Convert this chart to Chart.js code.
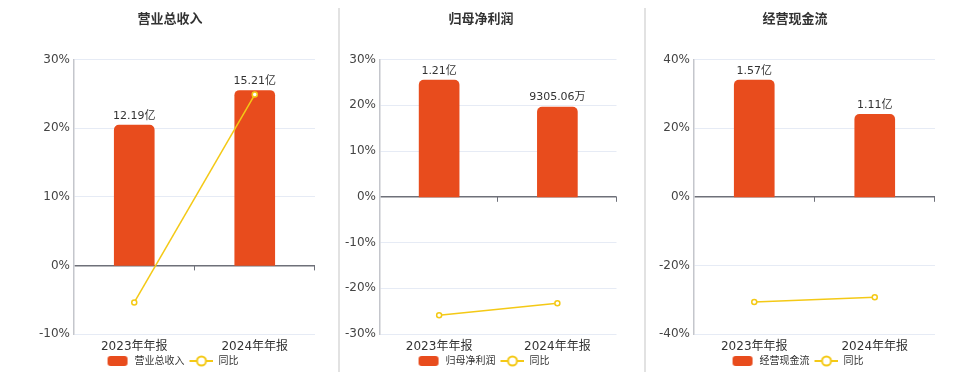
<!DOCTYPE html>
<html>
<head>
<meta charset="utf-8">
<script src="https://cdn.jsdelivr.net/npm/chart.js@4/dist/chart.umd.min.js"></script>
<style>
body{margin:0;background:#fff;width:960px;height:372px;overflow:hidden;position:relative}
.box{position:absolute;top:0;height:372px}
.sep{position:absolute;top:8px;bottom:0;width:2px;background:#e2e2e2}
</style>
</head>
<body>
<div class="box" style="left:0"><canvas id="c1" width="340" height="372"></canvas></div>
<div class="sep" style="left:338px"></div>
<div class="box" style="left:340px"><canvas id="c2" width="282" height="372"></canvas></div>
<div class="sep" style="left:644px"></div>
<div class="box" style="left:646px"><canvas id="c3" width="298" height="372"></canvas></div>
<script>
// 数据
const categories = ['2023年年报', '2024年年报'];

const revenue = [12.19, 15.21];            // 亿
const revenueLabels = ['12.19亿', '15.21亿'];
const revenueYoy = [-5.4, 24.9];           // %
const revenueTicks = [-10, 30, 10];        // min, max, step

const profit = [1.21, 0.930506];           // 亿
const profitLabels = ['1.21亿', '9305.06万'];
const profitYoy = [-25.9, -23.3];
const profitTicks = [-30, 30, 10];

const cash = [1.57, 1.11];                 // 亿
const cashLabels = ['1.57亿', '1.11亿'];
const cashYoy = [-30.7, -29.3];
const cashTicks = [-40, 40, 20];

const FONT = '"DejaVu Sans", "Noto Sans CJK SC", sans-serif';
const BAR_COLOR = '#e84c1d';
const LINE_COLOR = '#f4c916';

// 图例图标（左侧留白充当间距）
function barIcon() {
    const c = document.createElement('canvas');
    c.width = 28; c.height = 10;
    const g = c.getContext('2d');
    g.fillStyle = BAR_COLOR;
    g.beginPath();
    g.roundRect(6, 0, 20, 10, 3);
    g.fill();
    return c;
}
function lineIcon() {
    const c = document.createElement('canvas');
    c.width = 28; c.height = 12;
    const g = c.getContext('2d');
    g.strokeStyle = LINE_COLOR;
    g.lineWidth = 2;
    g.beginPath(); g.moveTo(4, 6); g.lineTo(28, 6); g.stroke();
    g.fillStyle = '#fff';
    g.beginPath(); g.arc(16, 6, 4.5, 0, Math.PI * 2); g.fill(); g.stroke();
    return c;
}
const icons = [barIcon(), lineIcon()];

// 柱顶数值
const barValueLabels = {
    id: 'barValueLabels',
    afterDatasetsDraw(chart, args, opts) {
        const ctx = chart.ctx;
        const meta = chart.getDatasetMeta(0);
        ctx.save();
        ctx.font = '11px ' + FONT;
        ctx.fillStyle = '#333';
        ctx.textAlign = 'center';
        ctx.textBaseline = 'bottom';
        meta.data.forEach((el, i) => {
            ctx.fillText(opts.labels[i], el.x, el.y - 4);
        });
        ctx.restore();
    }
};

// 零轴刻度
const zeroAxisTicks = {
    id: 'zeroAxisTicks',
    afterDraw(chart) {
        const x = chart.scales.x, y = chart.scales.y;
        const y0 = y.getPixelForValue(0);
        const n = chart.data.labels.length;
        const ctx = chart.ctx;
        ctx.save();
        ctx.strokeStyle = '#6e7079';
        ctx.lineWidth = 1;
        for (let i = 1; i <= n; i++) {
            const px = Math.round(x.left + i * (x.width / n)) - 0.5;
            ctx.beginPath();
            ctx.moveTo(px, y0);
            ctx.lineTo(px, y0 + 5);
            ctx.stroke();
        }
        ctx.restore();
    }
};

function makeChart(id, title, name, bars, labels, yoy, ticks, leftW, rightW) {
    const [pMin, pMax, pStep] = ticks;
    const barMax = Math.max(...bars) / 0.85;
    const barMin = barMax * pMin / pMax;
    return new Chart(document.getElementById(id), {
        type: 'bar',
        data: {
            labels: categories,
            datasets: [{
                type: 'bar',
                label: name,
                data: bars,
                yAxisID: 'yBar',
                backgroundColor: BAR_COLOR,
                borderRadius: { topLeft: 5, topRight: 5 },
                borderSkipped: 'bottom',
                barThickness: 40,
                order: 1
            }, {
                type: 'line',
                label: '同比',
                data: yoy,
                yAxisID: 'y',
                borderColor: LINE_COLOR,
                borderWidth: 1.5,
                pointRadius: 2.5,
                pointBorderWidth: 1.5,
                pointBackgroundColor: '#fff',
                pointBorderColor: LINE_COLOR,
                order: 0
            }]
        },
        options: {
            responsive: false,
            animation: false,
            layout: { padding: { bottom: -4 } },
            plugins: {
                title: {
                    display: true,
                    text: title,
                    color: '#333',
                    font: { family: FONT, size: 13, weight: 'bold' },
                    padding: { top: 12, bottom: 32 }
                },
                legend: {
                    position: 'bottom',
                    labels: {
                        usePointStyle: true,
                        pointStyleWidth: 28,
                        boxHeight: 10,
                        padding: 1,
                        color: '#333',
                        font: { family: FONT, size: 10 },
                        generateLabels: chart => chart.data.datasets.map((ds, i) => ({
                            text: ds.label,
                            pointStyle: icons[i],
                            fillStyle: 'transparent',
                            strokeStyle: 'transparent',
                            lineWidth: 0,
                            fontColor: '#333',
                            hidden: !chart.isDatasetVisible(i),
                            datasetIndex: i
                        }))
                    }
                },
                tooltip: { enabled: false },
                barValueLabels: { labels: labels }
            },
            scales: {
                x: {
                    grid: { display: false, drawTicks: false },
                    border: { display: false },
                    ticks: {
                        color: '#333',
                        padding: 6,
                        font: { family: FONT, size: 12 }
                    },
                    afterFit: s => { s.height = 21; }
                },
                y: {
                    position: 'left',
                    min: pMin,
                    max: pMax,
                    ticks: {
                        stepSize: pStep,
                        color: '#444',
                        padding: 4,
                        font: { family: FONT, size: 12 },
                        callback: v => v + '%'
                    },
                    grid: {
                        drawTicks: false,
                        color: c => c.tick && c.tick.value === 0 ? '#6e7079' : '#e6ebf5',
                        lineWidth: c => c.tick && c.tick.value === 0 ? 1.5 : 1
                    },
                    border: { color: '#c4c6cc', width: 1.5 },
                    afterFit: s => { s.width = leftW; }
                },
                yBar: {
                    position: 'right',
                    min: barMin,
                    max: barMax,
                    ticks: { display: false },
                    grid: { display: false, drawTicks: false },
                    border: { display: false },
                    afterFit: s => { s.width = rightW; }
                }
            }
        },
        plugins: [barValueLabels, zeroAxisTicks]
    });
}

makeChart('c1', '营业总收入', '营业总收入', revenue, revenueLabels, revenueYoy, revenueTicks, 74, 25);
makeChart('c2', '归母净利润', '归母净利润', profit, profitLabels, profitYoy, profitTicks, 40, 2);
makeChart('c3', '经营现金流', '经营现金流', cash, cashLabels, cashYoy, cashTicks, 48, 9);
</script>
</body>
</html>
